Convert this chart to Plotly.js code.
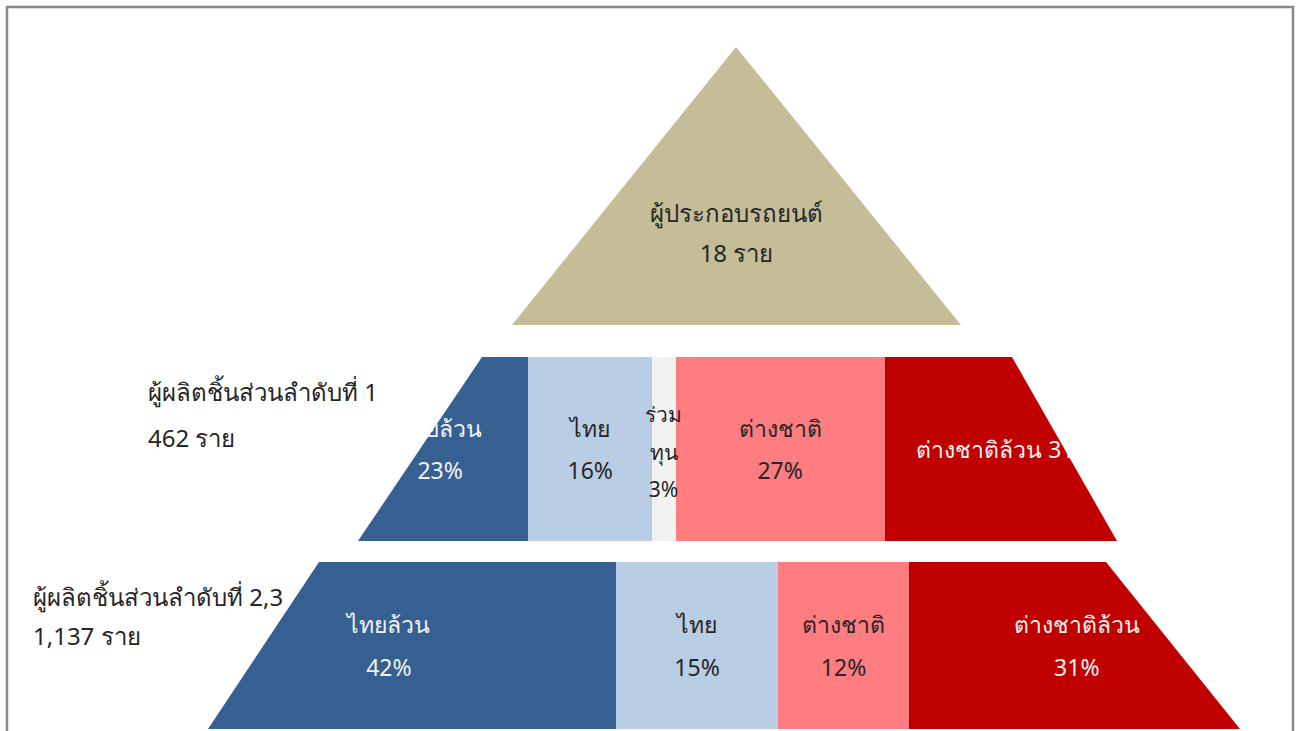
<!DOCTYPE html>
<html>
<head>
<meta charset="utf-8">
<script src="https://cdn.plot.ly/plotly-3.0.1.min.js"></script>
<style>html,body{margin:0;padding:0;background:#fff;}#chart{width:1297px;height:731px;}</style>
</head>
<body>
<div id="chart"></div>
<script>
// ---------- data ----------
const levelNames = ['ผู้ประกอบรถยนต์', 'ผู้ผลิตชิ้นส่วนลำดับที่ 1', 'ผู้ผลิตชิ้นส่วนลำดับที่ 2,3'];
const levelCounts = [18, 462, 1137];
const topShare = [100];
const tier1Groups = ['ไทยล้วน', 'ไทย', 'ร่วมทุน', 'ต่างชาติ', 'ต่างชาติล้วน'];
const tier1Pct = [23, 16, 3, 27, 31];
const tier23Groups = ['ไทยล้วน', 'ไทย', 'ต่างชาติ', 'ต่างชาติล้วน'];
const tier23Pct = [42, 15, 12, 31];
const unitWord = 'ราย';

// ---------- style ----------
const FONT = 'Noto Sans, Tahoma, sans-serif';
const groupColor = {'ไทยล้วน':'#376092','ไทย':'#B9CDE5','ร่วมทุน':'#F2F2F2','ต่างชาติ':'#FF7C80','ต่างชาติล้วน':'#C00000'};
const groupText = {'ไทยล้วน':'#F2F2F2','ไทย':'#262626','ร่วมทุน':'#262626','ต่างชาติ':'#262626','ต่างชาติล้วน':'#F2F2F2'};
const topColor = '#C4BD97';
const W = 1297, H = 731;
const px = x => x / W, py = y => 1 - y / H;
const INNER = 23, OUTER = 33;

// band geometry in pixels (layout only)
const bands = [
  {top:47,  bot:325, x0:505, x1:968,  lt:736, lb:512, rt:736,  rb:961},
  {top:357, bot:541, x0:350, x1:1125, lt:482, lb:358, rt:1012, rb:1117},
  {top:562, bot:729, x0:160, x1:1245, lt:319, lb:208, rt:1106, rb:1240}
];

function spaced(lines, inner){
  return lines.map(l => '<span style="font-size:' + inner + 'px">' + l + '</span>').join('<br>');
}
function linesFor(name, pct, band){
  if (name === 'ร่วมทุน') return ['ร่วม', 'ทุน', pct + '%'];
  if (band === 1 && name === 'ต่างชาติล้วน') return [name + ' ' + pct + '%'];
  return [name, pct + '%'];
}

const traces = [];
const annotations = [];
traces.push({
  type:'bar', orientation:'h', x: topShare, y:[levelNames[0]],
  xaxis:'x', yaxis:'y', marker:{color: topColor, line:{width:0}},
  hoverinfo:'skip', showlegend:false
});
function addBand(groups, pcts, band){
  const ax = band === 1 ? '2' : '3';
  let cum = 0;
  groups.forEach((g, i) => {
    const isSmall = g === 'ร่วมทุน';
    traces.push({
      type:'bar', orientation:'h', x:[pcts[i]], y:[levelNames[band]],
      xaxis:'x' + ax, yaxis:'y' + ax, name:g,
      marker:{color: groupColor[g], line:{width:0}},
      text: isSmall ? [''] : [spaced(linesFor(g, pcts[i], band), INNER)],
      textposition: isSmall ? 'none' : 'inside', insidetextanchor:'middle', textangle:0,
      constraintext:'none', cliponaxis:false,
      textfont:{family: FONT, size: OUTER, color: groupText[g]},
      hoverinfo:'skip', showlegend:false
    });
    if (isSmall) {
      annotations.push({xref:'x' + ax, yref:'y' + ax, x: cum + pcts[i] / 2, y: levelNames[band], yshift:-2,
        showarrow:false, align:'center',
        text: spaced(linesFor(g, pcts[i], band), 21),
        font:{family: FONT, size:29, color: groupText[g]}});
    }
    cum += pcts[i];
  });
}
addBand(tier1Groups, tier1Pct, 1);
addBand(tier23Groups, tier23Pct, 2);

function axX(b){ return {domain:[px(b.x0), px(b.x1)], range:[0,100], visible:false, fixedrange:true}; }
function axY(b){ return {domain:[py(b.bot), py(b.top)], range:[-0.5,0.5], visible:false, fixedrange:true, type:'category'}; }

const shapes = [];
bands.forEach(b => {
  shapes.push({type:'path', xref:'paper', yref:'paper', layer:'above', fillcolor:'#ffffff', line:{width:0},
    path:'M ' + px(b.lt) + ' ' + py(b.top) + ' L ' + px(b.lb) + ' ' + py(b.bot) + ' L 0 ' + py(b.bot) + ' L 0 ' + py(b.top) + ' Z'});
  shapes.push({type:'path', xref:'paper', yref:'paper', layer:'above', fillcolor:'#ffffff', line:{width:0},
    path:'M ' + px(b.rt) + ' ' + py(b.top) + ' L ' + px(b.rb) + ' ' + py(b.bot) + ' L 1 ' + py(b.bot) + ' L 1 ' + py(b.top) + ' Z'});
});
shapes.push({type:'rect', xref:'paper', yref:'paper', layer:'above', x0:px(7), x1:px(1293), y0:py(745), y1:py(7),
  line:{color:'#898989', width:2.5}, fillcolor:'rgba(0,0,0,0)'});

annotations.push(
  {xref:'x', yref:'y', x: topShare[0] / 2, y: levelNames[0], yshift:-47, showarrow:false,
   text: spaced([levelNames[0], levelCounts[0] + ' ' + unitWord], 24),
   font:{family: FONT, size:31, color:'#262626'}, align:'center'},
  {xref:'paper', yref:'paper', x:px(146), y:py(414), xanchor:'left', yanchor:'middle', showarrow:false, align:'left',
   text: spaced([levelNames[1], levelCounts[1].toLocaleString('en-US') + ' ' + unitWord], 24),
   font:{family: FONT, size:35, color:'#262626'}},
  {xref:'paper', yref:'paper', x:px(31), y:py(616), xanchor:'left', yanchor:'middle', showarrow:false, align:'left',
   text: spaced([levelNames[2], levelCounts[2].toLocaleString('en-US') + ' ' + unitWord], 24),
   font:{family: FONT, size:30, color:'#262626'}}
);

const layout = {
  width:W, height:H, margin:{l:0, r:0, t:0, b:0},
  paper_bgcolor:'#ffffff', plot_bgcolor:'rgba(0,0,0,0)',
  barmode:'stack', bargap:0, showlegend:false,
  font:{family: FONT},
  xaxis: Object.assign(axX(bands[0]), {anchor:'y'}),
  yaxis: Object.assign(axY(bands[0]), {anchor:'x'}),
  xaxis2: Object.assign(axX(bands[1]), {anchor:'y2'}),
  yaxis2: Object.assign(axY(bands[1]), {anchor:'x2'}),
  xaxis3: Object.assign(axX(bands[2]), {anchor:'y3'}),
  yaxis3: Object.assign(axY(bands[2]), {anchor:'x3'}),
  shapes: shapes, annotations: annotations
};

Plotly.newPlot('chart', traces, layout, {displayModeBar:false, staticPlot:true});
</script>
</body>
</html>
